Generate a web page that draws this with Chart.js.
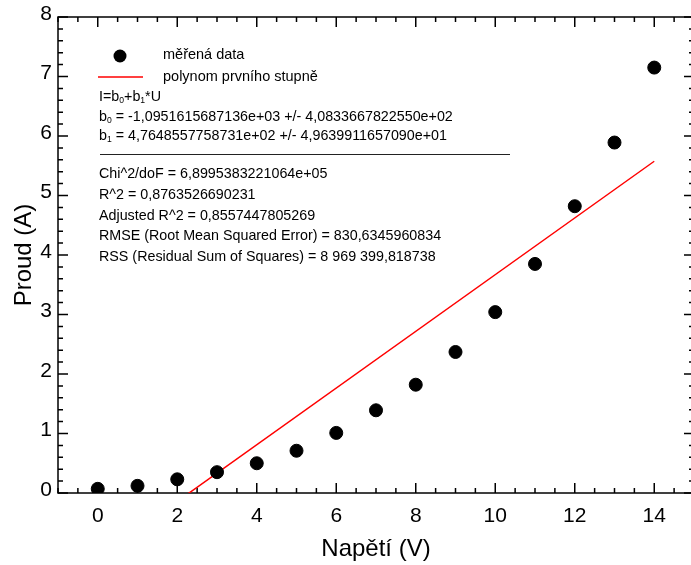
<!DOCTYPE html>
<html>
<head>
<meta charset="utf-8">
<script src="https://cdn.jsdelivr.net/npm/chart.js@4.4.1/dist/chart.umd.min.js"></script>
<style>
  html, body { margin: 0; padding: 0; background: #fff; overflow: hidden; }
  #wrap { width: 691px; height: 565px; overflow: hidden; }
</style>
</head>
<body>
<div id="wrap"><canvas id="chart" width="694" height="565"></canvas></div>
<script>
// measured points
const napeti = [0, 1, 2, 3, 4, 5, 6, 7, 8, 9, 10, 11, 12, 13, 14];
const proud = [0.07, 0.12, 0.23, 0.35, 0.50, 0.71, 1.01, 1.39, 1.82, 2.37, 3.04, 3.85, 4.82, 5.89, 7.15];

// first degree polynomial fit (end points)
const fitX = [0, 14];
const fitY = [-1.0952, 5.5756];

const xTicks = [0, 2, 4, 6, 8, 10, 12, 14];
const yTicks = [0, 1, 2, 3, 4, 5, 6, 7, 8];

const legendLabels = ['měřená data', 'polynom prvního stupně'];
// "_d" = subscript digit
const fitInfo = [
  'I=b_0+b_1*U',
  'b_0 = -1,0951615687136e+03 +/- 4,0833667822550e+02',
  'b_1 = 4,7648557758731e+02 +/- 4,9639911657090e+01'
];
const fitStats = [
  'Chi^2/doF = 6,8995383221064e+05',
  'R^2 = 0,8763526690231',
  'Adjusted R^2 = 0,8557447805269',
  'RMSE (Root Mean Squared Error) = 830,6345960834',
  'RSS (Residual Sum of Squares) = 8 969 399,818738'
];

const FONT = "'Liberation Sans', Arial, sans-serif";

function drawRich(ctx, str, x, y, size) {
  // draws text with _d subscripts
  let cx = x;
  let i = 0;
  while (i < str.length) {
    if (str[i] === '_' && i + 1 < str.length) {
      ctx.font = (size * 0.6) + 'px ' + FONT;
      ctx.fillText(str[i + 1], cx, y + size * 0.22);
      cx += ctx.measureText(str[i + 1]).width;
      i += 2;
    } else {
      let j = i;
      while (j < str.length && str[j] !== '_') j++;
      const part = str.slice(i, j);
      ctx.font = size + 'px ' + FONT;
      ctx.fillText(part, cx, y);
      cx += ctx.measureText(part).width;
      i = j;
    }
  }
}

const framePlugin = {
  id: 'frame',
  beforeDatasetsDraw(chart) {
    const { ctx, chartArea: a, scales: { x, y } } = chart;
    ctx.save();
    ctx.strokeStyle = '#000';
    ctx.lineWidth = 1.5;
    ctx.strokeRect(a.left, a.top, a.right - a.left, a.bottom - a.top);
    ctx.beginPath();
    // x ticks, inside, top and bottom
    for (let k = 0; k <= 32; k++) {
      const v = x.min + k * 0.5;
      const px = x.getPixelForValue(v);
      const len = xTicks.includes(v) ? 10 : 5;
      ctx.moveTo(px, a.bottom); ctx.lineTo(px, a.bottom - len);
      ctx.moveTo(px, a.top); ctx.lineTo(px, a.top + len);
    }
    // y ticks, inside, left and right
    for (let k = 0; k <= 40; k++) {
      const v = Math.round((y.min + k * 0.2) * 10) / 10;
      const py = y.getPixelForValue(v);
      const len = yTicks.includes(v) ? 10 : 5;
      ctx.moveTo(a.left, py); ctx.lineTo(a.left + len, py);
      ctx.moveTo(a.right, py); ctx.lineTo(a.right - len, py);
    }
    ctx.stroke();
    ctx.restore();
  },
  afterDraw(chart) {
    const { ctx } = chart;
    ctx.save();
    ctx.fillStyle = '#000';
    ctx.textBaseline = 'middle';
    // legend
    ctx.beginPath();
    ctx.arc(120, 56, 6.5, 0, Math.PI * 2);
    ctx.fill();
    ctx.strokeStyle = '#ff0000';
    ctx.lineWidth = 1.5;
    ctx.beginPath();
    ctx.moveTo(98, 77); ctx.lineTo(143, 77);
    ctx.stroke();
    ctx.font = '14.5px ' + FONT;
    ctx.fillText(legendLabels[0], 163, 55);
    ctx.fillText(legendLabels[1], 163, 77);
    // fit parameters
    const infoY = [97, 117, 136];
    fitInfo.forEach((s, i) => drawRich(ctx, s, 99, infoY[i], 14.3));
    ctx.strokeStyle = '#222';
    ctx.lineWidth = 1;
    ctx.beginPath();
    ctx.moveTo(100, 154.5); ctx.lineTo(510, 154.5);
    ctx.stroke();
    ctx.font = '14.3px ' + FONT;
    fitStats.forEach((s, i) => ctx.fillText(s, 99, 174 + i * 20.8));
    ctx.restore();
  }
};

new Chart(document.getElementById('chart').getContext('2d'), {
  type: 'scatter',
  data: {
    datasets: [
      {
        label: legendLabels[0],
        data: napeti.map((v, i) => ({ x: v, y: proud[i] })),
        backgroundColor: '#000',
        borderColor: '#000',
        pointRadius: 6.5,
        pointHoverRadius: 6.5,
        showLine: false
      },
      {
        label: legendLabels[1],
        data: fitX.map((v, i) => ({ x: v, y: fitY[i] })),
        borderColor: '#ff0000',
        borderWidth: 1.5,
        pointRadius: 0,
        showLine: true,
        fill: false
      }
    ]
  },
  options: {
    responsive: false,
    animation: false,
    devicePixelRatio: 1,
    layout: { autoPadding: false, padding: { top: 17, right: 0, left: 0, bottom: 0 } },
    plugins: { legend: { display: false }, tooltip: { enabled: false } },
    scales: {
      x: {
        type: 'linear',
        min: -1,
        max: 15,
        afterBuildTicks: s => { s.ticks = xTicks.map(v => ({ value: v })); },
        afterFit: s => { s.height = 72; s.paddingLeft = 0; s.paddingRight = 0; },
        grid: { display: false, drawTicks: false },
        border: { display: false },
        ticks: { color: '#000', font: { size: 21, family: FONT }, padding: 11, maxRotation: 0, autoSkip: false },
        title: { display: true, text: 'Napětí (V)', color: '#000', font: { size: 24, family: FONT }, padding: { top: 0, bottom: 1 } }
      },
      y: {
        type: 'linear',
        min: 0,
        max: 8,
        afterBuildTicks: s => { s.ticks = yTicks.map(v => ({ value: v })); },
        afterFit: s => { s.width = 58; s.paddingTop = 0; s.paddingBottom = 0; },
        grid: { display: false, drawTicks: false },
        border: { display: false },
        ticks: { color: '#000', font: { size: 21, family: FONT }, padding: 6, labelOffset: -3, autoSkip: false },
        title: { display: true, text: 'Proud (A)', color: '#000', font: { size: 24, family: FONT }, padding: { top: 10, bottom: 0 } }
      }
    }
  },
  plugins: [framePlugin]
});
</script>
</body>
</html>
